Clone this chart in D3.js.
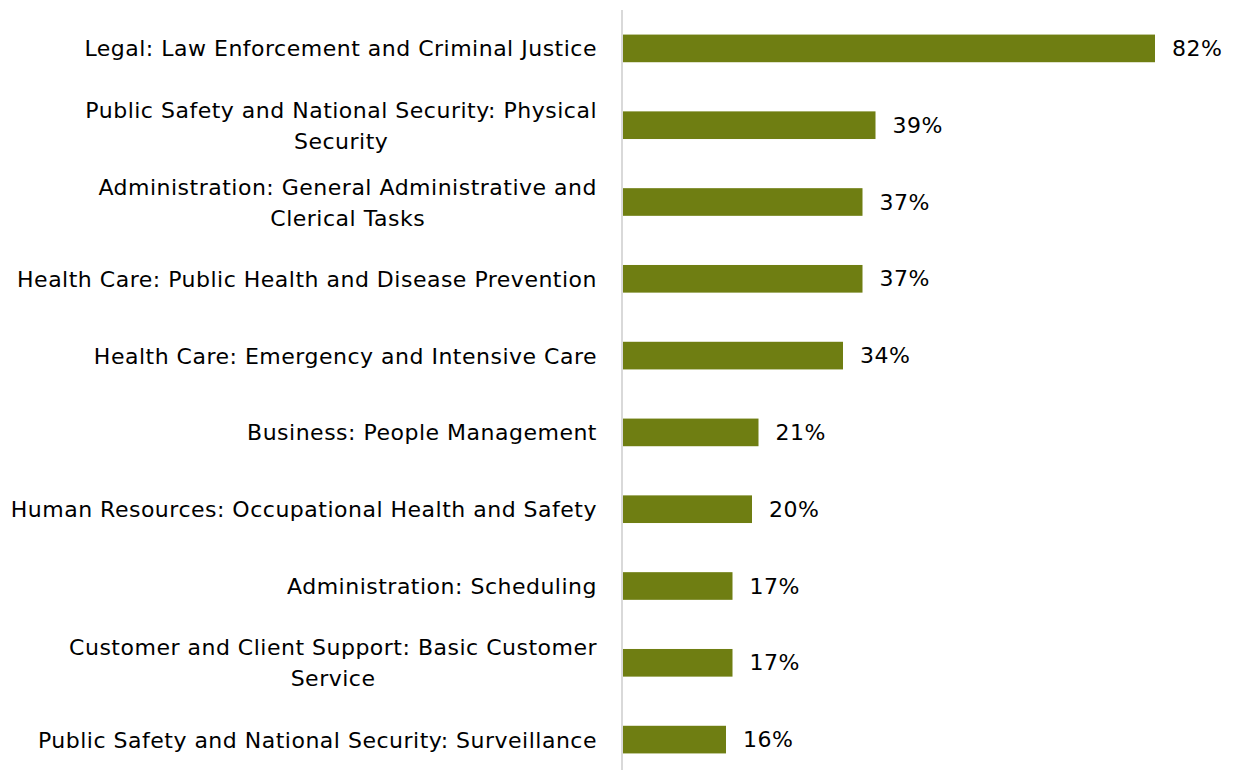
<!DOCTYPE html>
<html lang="en">

<head>
    <meta charset="UTF-8">
    <script src="https://d3js.org/d3.v7.min.js"></script>
    <title>AI use by sector</title>
    <style>
        body {
            margin: 0;
            background: #fff;
            font-family: "Century Gothic", "URW Gothic", "DejaVu Sans", sans-serif;
        }

        .label,
        .value {
            font-size: 22px;
            letter-spacing: 0.5px;
            fill: #000;
        }
    </style>
</head>

<body>
    <svg id="chart" width="1237" height="770"></svg>

    <script>
        // line breaks follow the reference wrapping
        const categories = [
            "Legal: Law Enforcement and Criminal Justice",
            "Public Safety and National Security: Physical\nSecurity",
            "Administration: General Administrative and\nClerical Tasks",
            "Health Care: Public Health and Disease Prevention",
            "Health Care: Emergency and Intensive Care",
            "Business: People Management",
            "Human Resources: Occupational Health and Safety",
            "Administration: Scheduling",
            "Customer and Client Support: Basic Customer\nService",
            "Public Safety and National Security: Surveillance"
        ];
        const values = [82, 39, 37, 37, 34, 21, 20, 17, 17, 16];

        const svg = d3.select("#chart");
        const axisX = 622;

        const x = d3.scaleLinear()
            .domain([0, 82])
            .range([axisX, 1155]);

        const y = d3.scaleBand()
            .domain(categories)
            .range([10, 778])
            .paddingInner(0.64)
            .paddingOuter(0.32);

        const rows = categories.map((c, i) => ({ cat: c, val: values[i] }));

        svg.selectAll("rect.bar")
            .data(rows)
            .enter()
            .append("rect")
            .attr("class", "bar")
            .attr("x", x(0))
            .attr("y", d => y(d.cat))
            .attr("width", d => x(d.val) - x(0))
            .attr("height", y.bandwidth())
            .attr("fill", "#6f7e12");

        svg.append("line")
            .attr("x1", axisX)
            .attr("x2", axisX)
            .attr("y1", 10)
            .attr("y2", 770)
            .attr("stroke", "#d9d9d9")
            .attr("stroke-width", 2);

        const lineH = 31;
        const labels = svg.selectAll("text.label")
            .data(rows)
            .enter()
            .append("text")
            .attr("class", "label")
            .attr("text-anchor", "middle")
            .attr("dominant-baseline", "central");

        labels.each(function (d) {
            const parts = d.cat.split("\n");
            const cy = y(d.cat) + y.bandwidth() / 2;
            const t = d3.select(this);
            parts.forEach((p, k) => {
                t.append("tspan")
                    .attr("y", cy + (k - (parts.length - 1) / 2) * lineH)
                    .text(p);
            });
        });

        // right-align the first line, center the rest under it (like the reference)
        labels.each(function () {
            const spans = d3.select(this).selectAll("tspan").nodes();
            const w0 = spans[0].getComputedTextLength();
            const mid = 597 - w0 / 2;
            spans.forEach(s => d3.select(s).attr("x", mid));
        });

        svg.selectAll("text.value")
            .data(rows)
            .enter()
            .append("text")
            .attr("class", "value")
            .attr("x", d => x(d.val) + 17)
            .attr("y", d => y(d.cat) + y.bandwidth() / 2)
            .attr("dominant-baseline", "central")
            .text(d => d.val + "%");
    </script>
</body>

</html>
